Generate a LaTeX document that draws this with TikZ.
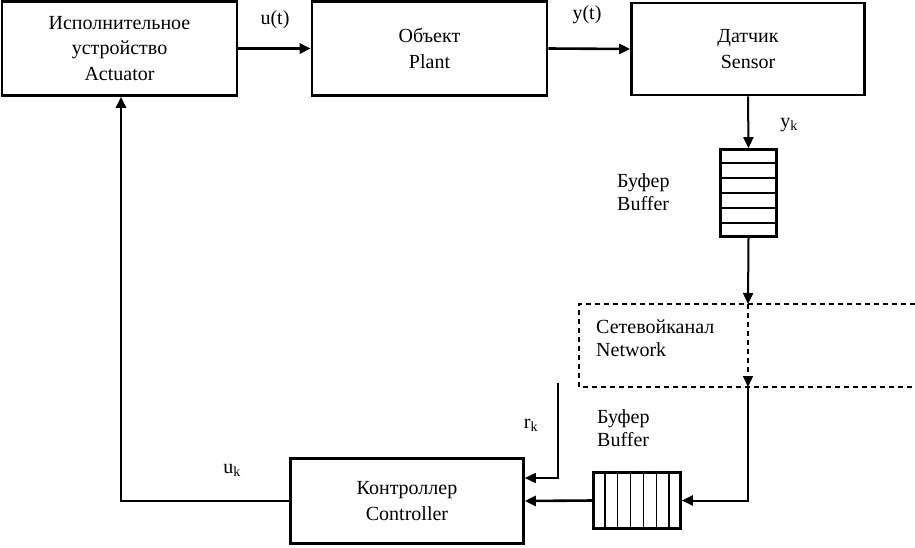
\documentclass[tikz,border=0pt]{standalone}
\usepackage{fontspec}
\setmainfont{Liberation Serif}
\usetikzlibrary{arrows.meta,calc}
\begin{document}
\begin{tikzpicture}[x=1pt,y=-1pt,
  box/.style={draw,line width=2.6pt,rectangle,inner sep=0pt,align=center,font=\fontsize{20}{25.5}\selectfont},
  lbl/.style={inner sep=0pt,align=left,font=\fontsize{20}{23}\selectfont},
  tip/.style={-{Triangle[length=11pt,width=10pt]}},
  arr/.style={tip,line width=2.6pt},
  arrm/.style={tip,line width=2pt},
  arrs/.style={tip,line width=1.6pt},
  netdash/.style={dash pattern=on 5pt off 4pt,line width=1.1pt},
  cellline/.style={line width=1.3pt}]
\useasboundingbox (0,0) rectangle (915,547);
% main boxes
\node[box,minimum width=235pt,minimum height=94pt] (act) at (119.5,48.5) {Исполнительное\\устройство\\Actuator};
\node[box,minimum width=235pt,minimum height=94pt] (plant) at (429.5,48.5) {Объект\\Plant};
\node[box,minimum width=233pt,minimum height=92pt] (sens) at (748,49) {Датчик\\Sensor};
\node[box,minimum width=233pt,minimum height=85pt] (ctrl) at (407,501) {Контроллер\\Controller};
% buffers
\node[box,minimum width=56.5pt,minimum height=87pt] (b1) at (748.5,193) {};
\foreach \i in {1,...,5}
  \draw[cellline] ($(b1.north west)!\i/6!(b1.south west)$) -- ($(b1.north east)!\i/6!(b1.south east)$);
\node[box,minimum width=87pt,minimum height=56.5pt] (b2) at (637,500.5) {};
\foreach \i in {1,...,6}
  \draw[cellline] ($(b2.north west)!\i/7!(b2.north east)$) -- ($(b2.south west)!\i/7!(b2.south east)$);
% network channel
\draw[netdash] (915,304) -- (579,304) -- (579,387) -- (915,387);
\coordinate (nin) at (748,304);
\coordinate (nout) at (748,387);
\coordinate (rk) at (558,383);
\coordinate (ukc) at (121,501);
% labels
\node[lbl] (lut) at (275,20) {u(t)};
\node[lbl] (lyt) at (587,15) {y(t)};
\node[lbl] (lyk) at (789,125) {y\textsubscript{k}};
\node[lbl,anchor=west] (lb1) at (617,192) {Буфер\\Buffer};
\node[lbl,anchor=west] (lnet) at (596,338.5) {Сетевойканал\\Network};
\node[lbl,anchor=west] (lb2) at (597,428.5) {Буфер\\Buffer};
\node[lbl] (lrk) at (531,425) {r\textsubscript{k}};
\node[lbl] (luk) at (232,470) {u\textsubscript{k}};
% connectors
\draw[arr] (act.east) -- (plant.west);
\draw[arr] (plant.east) -- (sens.west);
\draw[arrm] (sens.south) -- (b1.north);
\draw[arrm] (b1.south) -- (nin);
\draw[netdash,tip] (nin) -- (nout);
\draw[arrm] (nout) |- (b2.east);
\draw[arr] (b2.west) -- (ctrl.east);
\draw[arrs] (rk) |- ($(ctrl.east)+(0,-23)$);
\draw[arr] (ctrl.west) -- (ukc) -- (ukc |- act.south);
\end{tikzpicture}
\end{document}
